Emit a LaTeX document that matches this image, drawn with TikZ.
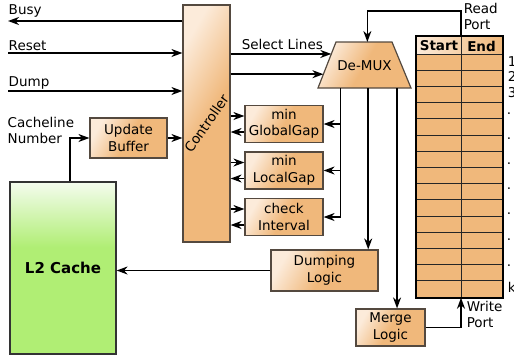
\documentclass[tikz,border=0pt]{standalone}
\usepackage{fontspec}
\setmainfont{DejaVu Sans}
\usetikzlibrary{calc}
\usetikzlibrary{arrows.meta}

\newcommand{\dsize}{\fontsize{13.5}{16.5}\selectfont}
\definecolor{boxorange}{HTML}{F0B87B}
\definecolor{boxlight}{HTML}{FCEBDA}
\definecolor{boxedge}{HTML}{54493F}
\definecolor{cachegreen}{HTML}{B0EE74}
\definecolor{cachelight}{HTML}{F4FCEE}
\pgfdeclareverticalshading{cacheshade}{100bp}{color(0bp)=(cachegreen); color(25bp)=(cachegreen);
  color(56bp)=(cachegreen); color(75bp)=(cachelight); color(100bp)=(cachelight)}

\tikzset{
  blockfill/.style={draw=boxedge, line width=1.2pt, left color=boxlight, right color=boxorange, middle color=boxorange, shading angle=60},
  block/.style={blockfill, align=center, inner sep=0pt, font=\dsize},
  tabline/.style={draw=black!85, line width=1pt},
  rowlabel/.style={anchor=base west, inner sep=0pt, font=\dsize},
  label/.style={anchor=base west, inner sep=0pt, font=\dsize}
}

\begin{document}
\begin{tikzpicture}[x=1pt,y=-1pt,line width=1.5pt,>={Stealth[length=11pt,width=8pt,inset=3.5pt]}]
        \useasboundingbox (0,0) rectangle (514,360);

        % Controller
        \node[block, minimum width=47pt, minimum height=237pt] (ctrl) at (206.5,123.5) {};
        \node[rotate=55, font=\dsize] (ctrltext) at (ctrl.center) {Controller};

        % Blocks
        \node[block, minimum width=77pt, minimum height=40pt] (buf) at (128.5,138) {Update\\Buffer};
        \node[block, minimum width=78pt, minimum height=37pt] (gg) at (284,124) {min\\GlobalGap};
        \node[block, minimum width=78pt, minimum height=37pt] (lg) at (284,170.5) {min\\LocalGap};
        \node[block, minimum width=78pt, minimum height=37pt] (ci) at (284,217) {check\\Interval};
        \node[block, minimum width=107pt, minimum height=41pt] (dl) at (324.5,270.5) {Dumping\\Logic};
        \node[block, minimum width=69pt, minimum height=37pt] (ml) at (390.5,327.5) {Merge\\Logic};

        % L2 Cache
        \node[draw=black!80, line width=1.2pt, shading=cacheshade,
              minimum width=106pt, minimum height=172pt, font=\fontsize{15}{18}\selectfont\bfseries] (l2) at (63,268) {L2 Cache};

        % De-MUX
        \coordinate (dmtl) at (336,42);
        \coordinate (dmtr) at (392,42);
        \coordinate (dmbr) at (411,88);
        \coordinate (dmbl) at (318,88);
        \draw[blockfill] (dmtl) -- (dmtr) -- (dmbr) -- (dmbl) -- cycle;
        \node[font=\dsize] (dm) at (364.5,66) {De-MUX};

        % Table
        \node[fill=boxorange, minimum width=85pt, minimum height=260pt, inner sep=0pt] (tbl) at (459.5,167) {};
        \shade[left color=boxlight, right color=boxorange] (tbl.north west) rectangle (502,54);
        \coordinate (col) at (461,167);
        \foreach \r in {0,...,14}
            \draw[tabline] (417,{54+\r*16.2}) -- (502,{54+\r*16.2});
        \draw[tabline] (tbl.north -| col) -- (tbl.south -| col);
        \draw[line width=1.6pt] (tbl.north west) rectangle (tbl.south east);
        \node[font=\dsize\bfseries] (hstart) at (439,46) {Start};
        \node[font=\dsize\bfseries] (hend) at (481.5,46) {End};
        \node[rowlabel] (r1) at (507,66) {1};
        \node[rowlabel] (r2) at (507,81) {2};
        \node[rowlabel] (r3) at (507,97) {3};
        \foreach \y [count=\i] in {114,139,164,189,214,240,266}
            \node[rowlabel] (dot\i) at (506,\y) {.};
        \node[rowlabel] (rk) at (507,292) {k};

        % Controller inputs and outputs
        \coordinate (busy) at (8,21);
        \coordinate (reset) at (8,53);
        \coordinate (dump) at (8,91);
        \draw[->] (busy -| ctrl.west) -- (busy);
        \draw[->] (reset) -- (reset -| ctrl.west);
        \draw[->] (dump) -- (dump -| ctrl.west);
        \node[label] (tbusy) at (8,14) {Busy};
        \node[label] (treset) at (8,50) {Reset};
        \node[label] (tdump) at (8,86) {Dump};
        \node[label] (tcl) at (7,127) {Cacheline};
        \node[label] (tnum) at (7,143) {Number};
        \draw[->] (buf.east) -- (buf.east -| ctrl.west);
        \draw[->] ([xshift=7pt]l2.north) |- (buf.west);

        % Select lines
        \coordinate (sa) at ($(dmbl)!.74!(dmtl)$);
        \coordinate (sb) at ($(dmbl)!.30!(dmtl)$);
        \draw[->] (ctrl.east |- sa) -- (sa);
        \draw[->] (ctrl.east |- sb) -- (sb);
        \node[label] (tsel) at (241,49) {Select Lines};

        % Controller <-> checks
        \foreach \b in {gg,lg,ci}{
            \coordinate (up) at ($(\b.west)+(0,-8)$);
            \coordinate (dn) at ($(\b.west)+(0,8)$);
            \draw[->] (ctrl.east |- up) -- (up);
            \draw[->] (dn) -- (ctrl.east |- dn);
        }

        % De-MUX outputs
        \coordinate (o1) at ($(dmbl)!.24!(dmbr)$);
        \coordinate (o2) at ($(dmbl)!.54!(dmbr)$);
        \coordinate (o3) at ($(dmbl)!.85!(dmbr)$);
        \draw[->] (o1) |- (ci.east);
        \draw[->] (o1 |- gg.east) -- (gg.east);
        \draw[->] (o1 |- lg.east) -- (lg.east);
        \draw[->] (o2) -- (o2 |- dl.north);
        \draw[->] (o3) -- (o3 |- ml.north);
        \draw[->] (dl.west) -- (dl.west -| l2.east);

        % Read and write ports
        \coordinate (dmin) at ($(dmtl)!.56!(dmtr)$);
        \coordinate (rp) at (461,11);
        \draw[->] (tbl.north -| col) -- (rp) -| (dmin);
        \draw[->] (ml.east) -| (tbl.south -| col);
        \node[label] (tread) at (463,13) {Read};
        \node[label] (trport) at (463,29) {Port};
        \node[label] (twrite) at (466,311) {Write};
        \node[label] (twport) at (466,327) {Port};
    \end{tikzpicture}
\end{document}
